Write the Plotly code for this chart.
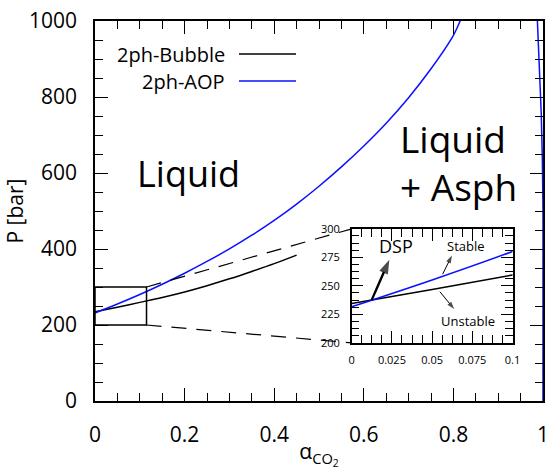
import plotly.graph_objects as go

# ---------------- data ----------------
bubble_alpha = [0.0, 0.05, 0.10, 0.15, 0.20, 0.25, 0.30, 0.35, 0.40, 0.45]
bubble_p     = [234.5, 246.8, 259.5, 272.5, 287.0, 303.5, 321.5, 341.0, 361.5, 384.0]

aop_alpha = [0.0, 0.05, 0.10, 0.15, 0.20, 0.25, 0.30, 0.35, 0.40, 0.45, 0.50,
             0.55, 0.60, 0.65, 0.70, 0.75, 0.80, 0.82]
aop_p     = [231.7, 255.2, 280.2, 307.2, 336.2, 367.2, 400.2, 436.2, 475.2, 518.2,
             565.2, 616.2, 671.2, 731.2, 798.2, 874.2, 962.2, 1015.0]

aop2_alpha = [0.9875, 0.992, 0.996, 0.9985, 1.0, 1.0]
aop2_p     = [1000.0, 880.0, 760.0, 640.0, 500.0, 0.0]

main_x_ticks = [0, 0.2, 0.4, 0.6, 0.8, 1]
main_y_ticks = [0, 200, 400, 600, 800, 1000]
inset_x_ticks = [0, 0.025, 0.05, 0.075, 0.1]
inset_y_ticks = [200, 225, 250, 275, 300]

# zoom-box bounds on the main axes
zoom_box_x = [0.0, 0.115]
zoom_box_y = [200, 300]

# inset arrows: (tail, head) in inset data coordinates
dsp_arrow = ([0.0124, 0.0234], [237.5, 273.0])
stable_arrow = ([0.0565, 0.0623], [260.2, 276.6])
unstable_arrow = ([0.0548, 0.0637], [244.9, 229.6])

FONT = "Open Sans"
BLACK = "#000000"
BLUE = "#0a10ff"

inset_dom_x = [0.573, 0.932]
inset_dom_y = [0.153, 0.453]

fig = go.Figure()

for xa, ya in [("x", "y"), ("x2", "y2")]:
    fig.add_trace(go.Scatter(x=bubble_alpha, y=bubble_p, mode="lines", name="2ph-Bubble",
                             line=dict(color=BLACK, width=1.5, shape="spline"),
                             xaxis=xa, yaxis=ya, showlegend=False))
    fig.add_trace(go.Scatter(x=aop_alpha, y=aop_p, mode="lines", name="2ph-AOP",
                             line=dict(color=BLUE, width=1.5, shape="spline"),
                             xaxis=xa, yaxis=ya, showlegend=False))
fig.add_trace(go.Scatter(x=aop2_alpha, y=aop2_p, mode="lines", name="2ph-AOP",
                         line=dict(color=BLUE, width=1.5), showlegend=False))

# arrows in the inset
for (ax_, ay_), w, sz in [(dsp_arrow, 2.4, 15), (stable_arrow, 1.0, 8), (unstable_arrow, 1.0, 8)]:
    fig.add_trace(go.Scatter(x=ax_, y=ay_, mode="lines+markers", xaxis="x2", yaxis="y2",
                             line=dict(color=BLACK, width=w),
                             marker=dict(symbol=["circle", "arrow"], size=[0, sz],
                                         angleref="previous", color=BLACK,
                                         line=dict(width=0)),
                             showlegend=False, hoverinfo="skip"))

axis_common = dict(showgrid=False, zeroline=False, showline=True, linecolor=BLACK,
                   linewidth=1.5, ticks="inside", tickcolor=BLACK, mirror="allticks",
                   automargin=False, ticklabeloverflow="allow")

fig.update_layout(
    width=547, height=470,
    margin=dict(l=95, r=4, t=21, b=69),
    paper_bgcolor="white", plot_bgcolor="white",
    font=dict(family=FONT, color=BLACK, size=21),
    showlegend=False,
    xaxis=dict(range=[0, 1], tickvals=main_x_ticks, ticklen=13, tickwidth=1.2,
               minor=dict(dtick=0.05, ticklen=8, tickcolor=BLACK, ticks="inside", tickwidth=1.2),
               tickfont=dict(size=21), ticklabelstandoff=14,
               title=dict(text="α<sub>CO<sub>2</sub></sub>", font=dict(size=21), standoff=6),
               **axis_common),
    yaxis=dict(range=[0, 1000], tickvals=main_y_ticks, ticklen=13, tickwidth=1.2,
               minor=dict(dtick=50, ticklen=8, tickcolor=BLACK, ticks="inside", tickwidth=1.2),
               tickfont=dict(size=21), ticklabelstandoff=12,
               title=dict(text="P [bar]", font=dict(size=21), standoff=0),
               **axis_common),
    xaxis2=dict(domain=inset_dom_x, anchor="y2", range=[0, 0.1], tickvals=inset_x_ticks,
                ticklen=12, tickwidth=1, tickfont=dict(size=11), ticklabelstandoff=6,
                minor=dict(dtick=0.00625, ticklen=8, tickcolor=BLACK, ticks="inside", tickwidth=1),
                **axis_common),
    yaxis2=dict(domain=inset_dom_y, anchor="x2", range=[200, 300], tickvals=inset_y_ticks,
                ticklen=12, tickwidth=1, tickfont=dict(size=11), ticklabelstandoff=8,
                minor=dict(dtick=6.25, ticklen=8, tickcolor=BLACK, ticks="inside", tickwidth=1),
                **axis_common),
)

shapes = []
shapes.append(dict(type="rect", xref="x", yref="y", x0=zoom_box_x[0], x1=zoom_box_x[1],
                   y0=zoom_box_y[0], y1=zoom_box_y[1], line=dict(color=BLACK, width=1.5)))
shapes.append(dict(type="line", xref="x", yref="y", x0=zoom_box_x[1], y0=zoom_box_y[1],
                   x1=inset_dom_x[0], y1=inset_dom_y[1] * 1000,
                   line=dict(color=BLACK, width=1.2, dash="15px,10px")))
shapes.append(dict(type="line", xref="x", yref="y", x0=zoom_box_x[1], y0=zoom_box_y[0],
                   x1=inset_dom_x[0], y1=inset_dom_y[0] * 1000,
                   line=dict(color=BLACK, width=1.2, dash="15px,10px")))
shapes.append(dict(type="line", xref="paper", yref="paper", x0=0.3214, x1=0.4487,
                   y0=0.913, y1=0.913, line=dict(color=BLACK, width=1.5)))
shapes.append(dict(type="line", xref="paper", yref="paper", x0=0.3214, x1=0.4487,
                   y0=0.842, y1=0.842, line=dict(color=BLUE, width=1.5)))
fig.update_layout(shapes=shapes)

ann = []
ann.append(dict(text="2ph-Bubble", xref="paper", yref="paper", x=0.2946, y=0.913,
                xanchor="right", yanchor="middle", showarrow=False, font=dict(size=20)))
ann.append(dict(text="2ph-AOP", xref="paper", yref="paper", x=0.2946, y=0.842,
                xanchor="right", yanchor="middle", showarrow=False, font=dict(size=20)))
ann.append(dict(text="Liquid", xref="x", yref="y", x=0.2076, y=600,
                xanchor="center", yanchor="middle", showarrow=False, font=dict(size=36)))
ann.append(dict(text="Liquid<br>+ Asph", xref="x", yref="y", x=0.677, y=627,
                xanchor="left", yanchor="middle", align="left", showarrow=False,
                font=dict(size=37)))
ann.append(dict(text="DSP", xref="x2", yref="y2", x=0.0275, y=285, showarrow=False,
                font=dict(size=18)))
ann.append(dict(text="Stable", xref="x2", yref="y2", x=0.0708, y=285, showarrow=False,
                font=dict(size=13)))
ann.append(dict(text="Unstable", xref="x2", yref="y2", x=0.0725, y=219.4, showarrow=False,
                font=dict(size=13)))
fig.update_layout(annotations=ann)

fig.write_html("out.html")
